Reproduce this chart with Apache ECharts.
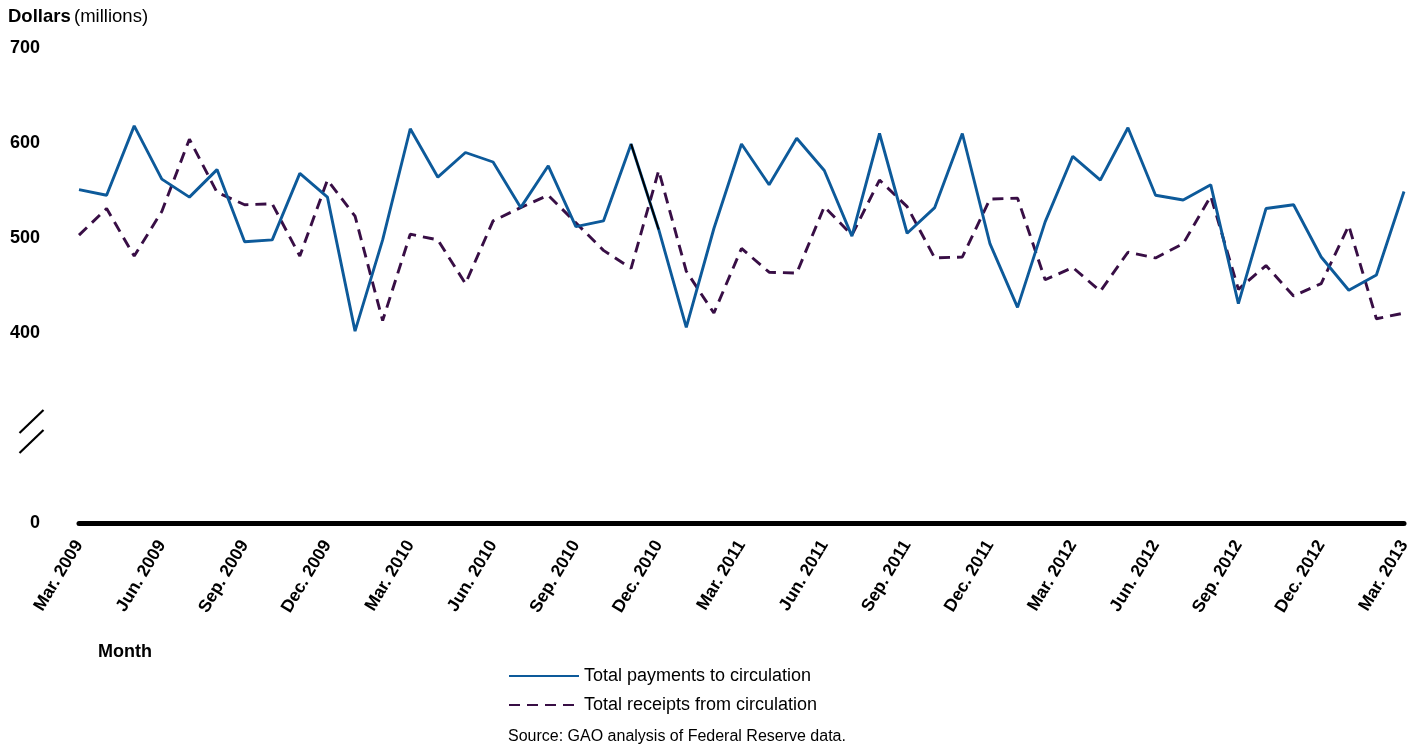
<!DOCTYPE html>
<html>
<head>
<meta charset="utf-8">
<script src="https://cdn.jsdelivr.net/npm/echarts@6/dist/echarts.min.js"></script>
<style>
html,body{margin:0;padding:0;background:#fff;}
#chart{width:1423px;height:747px;}
</style>
</head>
<body>
<div id="chart"></div>
<script>
const monthNames = ["Mar.","Apr.","May","Jun.","Jul.","Aug.","Sep.","Oct.","Nov.","Dec.","Jan.","Feb."];
const startYear = 2009;
const categories = [];
for (let i = 0; i < 49; i++) {
  const m = i % 12;
  const y = startYear + Math.floor((i + 2) / 12);
  categories.push(monthNames[m] + " " + y);
}
const payments = [551,545,618,562,543,572,496,498,568,543,402,498,615,564,590,580,532,576,512,518,599,509,406,510,599,556,605,571,502,610,505,532,610,494,427,517,586,561,616,545,540,556,431,531,535,480,445,461,549];
const receipts = [503,531,481,528,604,548,535,536,481,561,523,413,504,498,452,518,532,545,516,487,468,571,465,421,489,464,463,533,503,561,533,479,480,541,542,456,469,444,485,479,494,544,446,471,439,452,513,415,421];
const yTicks = {700:"700",600:"600",500:"500",400:"400",200:"0"};
// black highlighted segment (Nov.–Dec. 2010) of the payments line
const highlight = payments.map((v, i) => (i === 20 || i === 21) ? v : null);

const FONT = 'Liberation Sans, Arial, sans-serif';
const chart = echarts.init(document.getElementById('chart'));
const blue = '#0d5a9a';
const purple = '#380e45';
chart.setOption({
  animation: false,
  backgroundColor: '#fff',
  textStyle: {fontFamily: FONT},
  grid: {left: 79, right: 19, top: 48, bottom: 224, containLabel: false},
  xAxis: {
    type: 'category',
    data: categories,
    boundaryGap: false,
    axisLine: {show: true, onZero: false, lineStyle: {color: '#000', width: 5}},
    axisTick: {show: false},
    axisLabel: {
      interval: 2, rotate: 59, color: '#000', fontWeight: 'bold', fontSize: 17.5,
      margin: 19, fontFamily: FONT
    },
    splitLine: {show: false}
  },
  yAxis: {
    type: 'value', min: 200, max: 700, interval: 100,
    axisLine: {show: false}, axisTick: {show: false}, splitLine: {show: false},
    axisLabel: {
      color: '#000', fontWeight: 'bold', fontSize: 18, margin: 39,
      fontFamily: FONT,
      formatter: v => yTicks[v] !== undefined ? yTicks[v] : ''
    }
  },
  legend: {
    orient: 'vertical', left: 508, top: 667, padding: 0,
    itemWidth: 70, itemHeight: 18, itemGap: 11,
    data: ['Total payments to circulation', 'Total receipts from circulation'],
    itemStyle: {opacity: 0, borderWidth: 0},
    textStyle: {fontSize: 18, color: '#000', fontFamily: FONT},
    selectedMode: false
  },
  series: [
    {
      name: 'Total payments to circulation', type: 'line', data: payments,
      showSymbol: false, symbol: 'none',
      lineStyle: {color: blue, width: 2.9}, itemStyle: {color: blue}, z: 3
    },
    {
      name: 'Total receipts from circulation', type: 'line', data: receipts,
      showSymbol: false, symbol: 'none',
      lineStyle: {color: purple, width: 2.9, type: [11, 7]}, itemStyle: {color: purple}, z: 2
    },
    {
      name: 'highlight', type: 'line', data: highlight, showSymbol: false, symbol: 'none',
      lineStyle: {color: '#000', width: 2}, z: 4, silent: true
    }
  ],
  graphic: [
    {type: 'text', left: 8, top: 7, style: {
      text: '{b|Dollars} {n|(millions)}',
      rich: {
        b: {fontWeight: 'bold', fontSize: 18.5, fill: '#000', fontFamily: FONT},
        n: {fontSize: 18.5, fill: '#000', fontFamily: FONT}
      }
    }},
    {type: 'line', shape: {x1: 19.5, y1: 433, x2: 43.5, y2: 410}, style: {stroke: '#000', lineWidth: 2.2}},
    {type: 'line', shape: {x1: 19.5, y1: 453, x2: 43.5, y2: 430}, style: {stroke: '#000', lineWidth: 2.2}},
    {type: 'text', left: 98, top: 643, style: {text: 'Month', fontWeight: 'bold', fontSize: 18, fill: '#000', fontFamily: FONT}},
    {type: 'text', left: 508, top: 729, style: {text: 'Source: GAO analysis of Federal Reserve data.', fontSize: 16, fill: '#000', fontFamily: FONT}}
  ]
});
</script>
</body>
</html>
